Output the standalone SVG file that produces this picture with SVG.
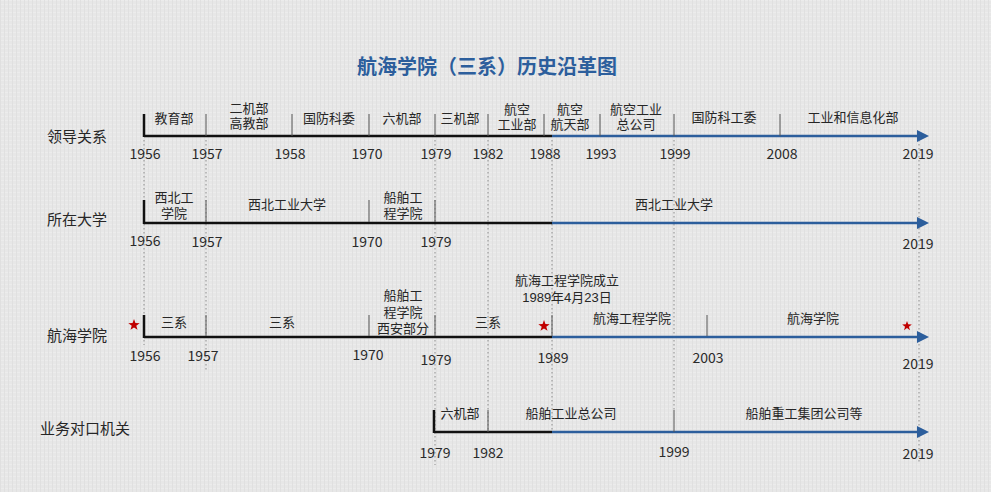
<svg xmlns="http://www.w3.org/2000/svg" width="991" height="492" viewBox="0 0 991 492">
<defs>
<pattern id="linen" width="4" height="4" patternUnits="userSpaceOnUse">
<rect width="4" height="4" fill="#e7e7e7"/>
<rect x="0" y="0" width="4" height="1" fill="#ececec"/>
<rect x="0" y="0" width="1" height="4" fill="#e0e0e0"/>
</pattern>
<polygon id="star" points="0,-6 1.411,-1.942 5.706,-1.854 2.283,0.742 3.527,4.854 0,2.4 -3.527,4.854 -2.283,0.742 -5.706,-1.854 -1.411,-1.942" fill="#c00000"/>
<marker id="arr" viewBox="0 0 12 12" refX="0" refY="6" markerWidth="12" markerHeight="12" markerUnits="userSpaceOnUse" orient="auto">
<polygon points="0,0 12,6 0,12" fill="#2c5e9c"/>
</marker>
</defs>
<style>
text{font-family:"Noto Sans CJK SC","Noto Sans",sans-serif;fill:#262626;text-anchor:middle}
.lb{font-size:13px}
.ml{font-family:"Liberation Sans","Noto Sans CJK SC",sans-serif}
.rw{font-size:15px}
.yr{font-size:14px;fill:#2a2a2a}
.ttl{font-size:20px;font-weight:bold;fill:#2c5e9c}
.blk{stroke:#111;stroke-width:2.5;fill:none}
.blu{stroke:#2c5e9c;stroke-width:2.5;fill:none}
.st{stroke:#111;stroke-width:2.5;fill:none}
.tk{stroke:#555;stroke-width:1;fill:none}
.dt{stroke:#8a8a8a;stroke-width:1;stroke-dasharray:1.5 2.5;fill:none}
</style>
<rect width="991" height="492" fill="url(#linen)"/>
<text class="ttl" x="487" y="74">航海学院（三系）历史沿革图</text>

<g id="connectors">
<g id="guides">
<line class="dt" x1="144" y1="140" x2="144" y2="345"/>
<line class="dt" x1="206" y1="140" x2="206" y2="370"/>
<line class="dt" x1="435" y1="140" x2="435" y2="465"/>
<line class="dt" x1="488" y1="140" x2="488" y2="432"/>
<line class="dt" x1="552" y1="140" x2="552" y2="430"/>
<line class="dt" x1="674" y1="140" x2="674" y2="410"/>
<line class="dt" x1="919" y1="140" x2="919" y2="462"/>
</g>
<g id="axis1">
<line class="blk" x1="144" y1="136" x2="552" y2="136"/>
<line class="blu" x1="552" y1="136" x2="917" y2="136" marker-end="url(#arr)"/>
<line class="st" x1="144" y1="114" x2="144" y2="137"/>
<path class="tk" d="M206 114V136M292 114V136M369 114V136M435 114V136M488 114V136M544 114V136M600 114V136M674 114V136M780 114V136"/>
</g>
<g id="axis2">
<line class="blk" x1="144" y1="223" x2="552" y2="223"/>
<line class="blu" x1="552" y1="223" x2="917" y2="223" marker-end="url(#arr)"/>
<line class="st" x1="144" y1="200" x2="144" y2="224"/>
<path class="tk" d="M206 200V222M369 200V222M435 200V222"/>
</g>
<g id="axis3">
<line class="blk" x1="144" y1="337" x2="552" y2="337"/>
<line class="blu" x1="552" y1="337" x2="917" y2="337" marker-end="url(#arr)"/>
<line class="st" x1="144" y1="315" x2="144" y2="338"/>
<path class="tk" d="M206 315V336M369 315V336M435 315V336M552 315V336M707 315V336"/>
</g>
<g id="axis4">
<line class="blk" x1="434" y1="432" x2="552" y2="432"/>
<line class="blu" x1="552" y1="432" x2="917" y2="432" marker-end="url(#arr)"/>
<line class="st" x1="434" y1="410" x2="434" y2="433"/>
<path class="tk" d="M488 410V432M674 410V432"/>
</g>
</g>

<g id="row-labels">
<text class="rw" x="77" y="142">领导关系</text>
<text class="rw" x="77" y="225">所在大学</text>
<text class="rw" x="77" y="341">航海学院</text>
<text class="rw" x="85" y="434">业务对口机关</text>
</g>

<g id="row1-nodes">
<g id="n-jiaoyubu"><text class="lb" x="174" y="123">教育部</text></g>
<g id="n-erjibu"><text class="lb ml" x="249" y="113">二机部</text><text class="lb ml" x="249" y="128">高教部</text></g>
<g id="n-guofangkewei"><text class="lb" x="329" y="123">国防科委</text></g>
<g id="n-liujibu1"><text class="lb" x="402" y="123">六机部</text></g>
<g id="n-sanjibu"><text class="lb" x="460" y="123">三机部</text></g>
<g id="n-hangkong1"><text class="lb ml" x="517" y="114">航空</text><text class="lb ml" x="517" y="129">工业部</text></g>
<g id="n-hangtian"><text class="lb ml" x="570" y="114">航空</text><text class="lb ml" x="570" y="129">航天部</text></g>
<g id="n-hkgy"><text class="lb ml" x="636" y="114">航空工业</text><text class="lb ml" x="636" y="129">总公司</text></g>
<g id="n-kegongwei"><text class="lb" x="724" y="122">国防科工委</text></g>
<g id="n-gxb"><text class="lb" x="853" y="122">工业和信息化部</text></g>
<g id="years1">
<text class="yr" x="145" y="159">1956</text><text class="yr" x="207" y="159">1957</text><text class="yr" x="290" y="159">1958</text><text class="yr" x="367" y="159">1970</text><text class="yr" x="436" y="159">1979</text><text class="yr" x="488" y="159">1982</text><text class="yr" x="545" y="159">1988</text><text class="yr" x="601" y="159">1993</text><text class="yr" x="675" y="159">1999</text><text class="yr" x="782" y="159">2008</text><text class="yr" x="918" y="159">2019</text>
</g>
</g>

<g id="row2-nodes">
<g id="n-xbgxy"><text class="lb ml" x="174" y="202">西北工</text><text class="lb ml" x="174" y="218">学院</text></g>
<g id="n-xgd1"><text class="lb" x="287" y="209">西北工业大学</text></g>
<g id="n-cbgcxy"><text class="lb ml" x="403" y="202">船舶工</text><text class="lb ml" x="403" y="218">程学院</text></g>
<g id="n-xgd2"><text class="lb" x="674" y="209">西北工业大学</text></g>
<g id="years2">
<text class="yr" x="145" y="246">1956</text><text class="yr" x="207" y="247">1957</text><text class="yr" x="367" y="247">1970</text><text class="yr" x="436" y="247">1979</text><text class="yr" x="918" y="249">2019</text>
</g>
</g>

<g id="row3-nodes">
<use href="#star" x="134" y="325"/>
<use href="#star" x="544" y="326"/>
<use href="#star" transform="translate(907 326) scale(0.85)"/>
<g id="n-sanxi1"><text class="lb" x="174" y="327">三系</text></g>
<g id="n-sanxi2"><text class="lb" x="282" y="327">三系</text></g>
<g id="n-xian"><text class="lb ml" x="403" y="300">船舶工</text><text class="lb ml" x="403" y="317">程学院</text><text class="lb ml" x="403" y="333">西安部分</text></g>
<g id="n-sanxi3"><text class="lb" x="488" y="327">三系</text></g>
<g id="n-founded"><text class="lb ml" x="567" y="285">航海工程学院成立</text><text class="lb ml" x="567" y="302">1989年4月23日</text></g>
<g id="n-hhgcxy"><text class="lb" x="632" y="323">航海工程学院</text></g>
<g id="n-hhxy"><text class="lb" x="813" y="323">航海学院</text></g>
<g id="years3">
<text class="yr" x="145" y="361">1956</text><text class="yr" x="203" y="361">1957</text><text class="yr" x="368" y="360">1970</text><text class="yr" x="436" y="365">1979</text><text class="yr" x="553" y="363">1989</text><text class="yr" x="708" y="363">2003</text><text class="yr" x="918" y="369">2019</text>
</g>
</g>

<g id="row4-nodes">
<g id="n-liujibu2"><text class="lb" x="460" y="418">六机部</text></g>
<g id="n-cbgyzgs"><text class="lb" x="571" y="418">船舶工业总公司</text></g>
<g id="n-cbzg"><text class="lb" x="804" y="418">船舶重工集团公司等</text></g>
<g id="years4">
<text class="yr" x="435" y="458">1979</text><text class="yr" x="488" y="458">1982</text><text class="yr" x="674" y="457">1999</text><text class="yr" x="918" y="459">2019</text>
</g>
</g>
</svg>
